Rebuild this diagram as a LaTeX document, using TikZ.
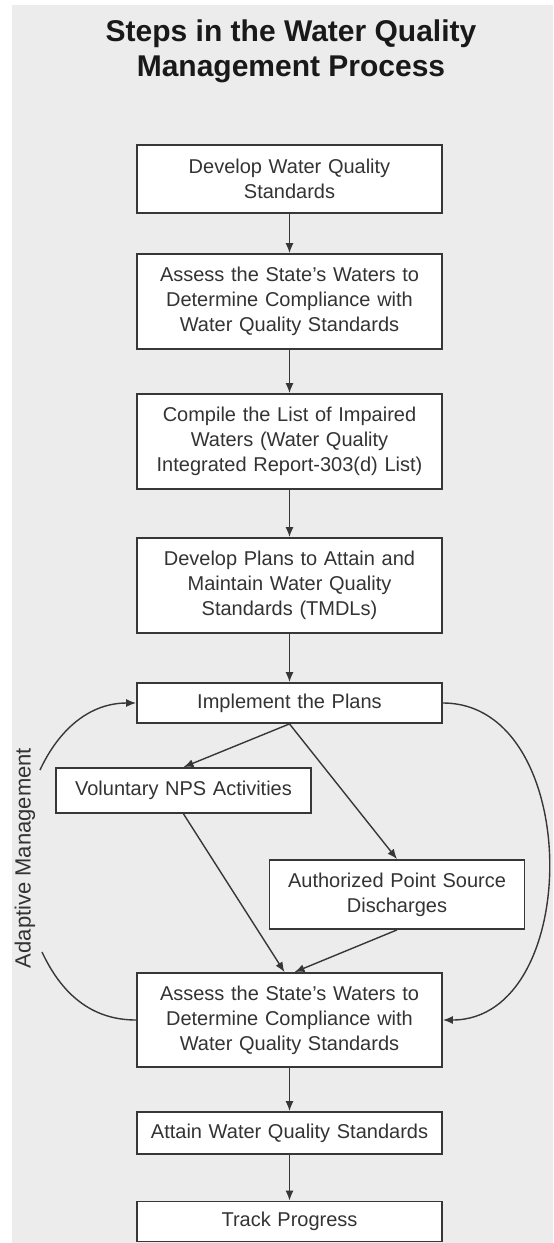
\documentclass[tikz,border=0pt]{standalone}
\usepackage{fontspec}
\setmainfont{Liberation Sans}
\usetikzlibrary{arrows.meta}
\definecolor{bggray}{RGB}{236,236,236}
\definecolor{inkgray}{RGB}{55,55,55}
\begin{document}
\begin{tikzpicture}[x=0.5pt,y=0.5pt,
    stepbox/.style={draw=inkgray,line width=0.9pt,fill=white,text=black!80,align=center,
      inner sep=0pt,minimum width=152.5pt,text width=150pt,font=\fontsize{10}{12.5}\selectfont},
    sidebox/.style={stepbox,minimum width=127.5pt,text width=125pt},
    flow/.style={draw=inkgray,line width=0.7pt,-{Latex[length=5pt,width=4pt]}},
    loopline/.style={draw=inkgray,line width=0.7pt}]
      \useasboundingbox (0,0) rectangle (553,-1243);
      \fill[white] (0,0) rectangle (553,-1243);
      \fill[bggray] (12,-5) rectangle (553,-1243);
      \node (title) at (291,-51) [font=\bfseries\fontsize{15}{17.5}\selectfont,align=center,text=black!90]
          {Steps in the Water Quality\\Management Process};
      % main column
      \node[stepbox,minimum height=34pt]   (develop)   at (289.5,-179)  {Develop Water Quality\\Standards};
      \node[stepbox,minimum height=47.5pt] (assess)    at (289.5,-301.5) {Assess the State’s Waters to\\Determine Compliance with\\Water Quality Standards};
      \node[stepbox,minimum height=47.5pt] (compile)   at (289.5,-441.5) {Compile the List of Impaired\\Waters (Water Quality\\Integrated Report-303(d) List)};
      \node[stepbox,minimum height=47.5pt] (plans)     at (289.5,-585.5) {Develop Plans to Attain and\\Maintain Water Quality\\Standards (TMDLs)};
      \node[stepbox,minimum height=20pt]   (implement) at (289.5,-703)  {Implement the Plans};
      \node[sidebox,minimum height=22.5pt] (voluntary) at (183.5,-790.5) {Voluntary NPS Activities};
      \node[sidebox,minimum height=34.5pt] (authorized) at (397,-894.5) {Authorized Point Source\\Discharges};
      \node[stepbox,minimum height=47pt]   (assessB)   at (289.5,-1020) {Assess the State’s Waters to\\Determine Compliance with\\Water Quality Standards};
      \node[stepbox,minimum height=21pt]   (attain)    at (289.5,-1133) {Attain Water Quality Standards};
      \node[stepbox,minimum height=20pt]   (track)     at (289.5,-1221.5) {Track Progress};
      \foreach \a/\b in {develop/assess,assess/compile,compile/plans,plans/implement,assessB/attain,attain/track}
      \draw[flow] (\a) -- (\b);
      \draw[flow] (implement.south) -- (voluntary.north);
      \draw[flow] (implement.south) -- (authorized.north);
      \draw[flow] (voluntary.south) -- ([xshift=-2.5pt]assessB.north);
      \draw[flow] (authorized.south) -- ([xshift=2.5pt]assessB.north);
      \draw[flow] (implement.east) to[out=0,in=0,looseness=1.14] (assessB.east);
      % adaptive management loop, broken by its label
      \node (adaptive) at (25,-858) [rotate=90,font=\fontsize{11}{13}\selectfont,text=black!80] {Adaptive Management};
      \coordinate (amlow) at (42,-952);
      \coordinate (amup) at (40,-770);
      \draw[loopline] (assessB.west) to[out=180,in=-65] (amlow);
      \draw[flow] (amup) to[out=65,in=180] (implement.west);
    \end{tikzpicture}
\end{document}
